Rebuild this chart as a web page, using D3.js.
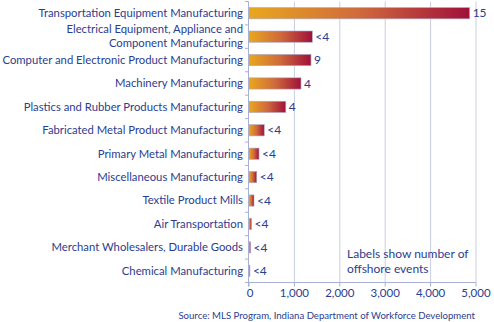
<!DOCTYPE html>
<html><head><meta charset="utf-8">
<script src="https://cdn.jsdelivr.net/npm/d3@7"></script>
<style>body{margin:0;background:#fff}svg{display:block}text{font-family:Lato,"Open Sans",sans-serif;fill:#2b3d8f}</style>
</head><body><svg id="c" width="494" height="322"></svg>
<script>
const categories = ["Transportation Equipment Manufacturing","Electrical Equipment, Appliance and|Component Manufacturing","Computer and Electronic Product Manufacturing","Machinery Manufacturing","Plastics and Rubber Products Manufacturing","Fabricated Metal Product Manufacturing","Primary Metal Manufacturing","Miscellaneous Manufacturing","Textile Product Mills","Air Transportation","Merchant Wholesalers, Durable Goods","Chemical Manufacturing"];
const values = [4860, 1395, 1365, 1145, 810, 335, 220, 170, 110, 55, 35, 20];
const eventLabels = ["15","<4","9","4","4","<4","<4","<4","<4","<4","<4","<4"];
const xTicks = [0,1000,2000,3000,4000,5000];

const svg = d3.select("#c");
const L = 249, R = 476, T = 1.5, B = 282.5;
const x = d3.scaleLinear().domain([0,5000]).range([L,R]);
const y = d3.scaleBand().domain(categories).range([T,B]).paddingInner(0.52).paddingOuter(0.26);

const defs = svg.append("defs");
const grad = defs.append("linearGradient").attr("id","g").attr("x1","0").attr("x2","1").attr("y1","0").attr("y2","0");
grad.append("stop").attr("offset","0").attr("stop-color","#e9a71e");
grad.append("stop").attr("offset","0.5").attr("stop-color","#cf6a3c");
grad.append("stop").attr("offset","1").attr("stop-color","#a0103a");

// grid
svg.append("g").selectAll("line").data(xTicks.slice(1)).join("line")
  .attr("x1",d=>x(d)).attr("x2",d=>x(d)).attr("y1",T).attr("y2",B)
  .attr("stroke","#c9cde3").attr("stroke-width",1);

// bars
svg.append("g").selectAll("rect").data(categories).join("rect")
  .attr("x",L).attr("y",d=>y(d)).attr("height",y.bandwidth())
  .attr("width",(d,i)=>x(values[i])-L)
  .attr("fill","url(#g)").attr("stroke","#a7a9c4").attr("stroke-width",0.6);

// value labels
svg.append("g").selectAll("text").data(categories).join("text")
  .attr("x",(d,i)=>x(values[i])+3).attr("y",d=>y(d)+y.bandwidth()/2).attr("dy","0.35em")
  .attr("font-size",12).text((d,i)=>eventLabels[i]);

// axes lines
svg.append("line").attr("x1",L-0.5).attr("x2",L-0.5).attr("y1",T).attr("y2",B+4).attr("stroke","#a9b0d3");
svg.append("line").attr("x1",L).attr("x2",R).attr("y1",B).attr("y2",B).attr("stroke","#a9b0d3");
// y ticks
svg.append("g").selectAll("line").data(d3.range(categories.length+1)).join("line")
  .attr("x1",L-4).attr("x2",L-0.5)
  .attr("y1",i=>i===0?T:(i===categories.length?B:(y(categories[i-1])+y.bandwidth()+y(categories[i]))/2))
  .attr("y2",i=>i===0?T:(i===categories.length?B:(y(categories[i-1])+y.bandwidth()+y(categories[i]))/2))
  .attr("stroke","#a9b0d3");
// x ticks
svg.append("g").selectAll("line").data(xTicks).join("line")
  .attr("x1",d=>x(d)).attr("x2",d=>x(d)).attr("y1",B).attr("y2",B+4).attr("stroke","#a9b0d3");
svg.append("g").selectAll("text").data(xTicks).join("text")
  .attr("x",d=>x(d)+(d===0?1:0)).attr("y",297).attr("text-anchor","middle").attr("font-size",11.5)
  .text(d=>d3.format(",")(d));

// category labels
const cl = svg.append("g").selectAll("text").data(categories).join("text")
  .attr("x",L-6).attr("y",d=>y(d)+y.bandwidth()/2).attr("text-anchor","end").attr("font-size",11.3);
cl.each(function(d){
  const parts = d.split("|"); const t = d3.select(this);
  if(parts.length===1){ t.attr("dy","0.35em").text(d); }
  else {
    t.append("tspan").attr("x",L-6).attr("dy","-0.3em").text(parts[0]);
    t.append("tspan").attr("x",L-6).attr("dy","1.2em").text(parts[1]);
  }
});

// note
svg.append("text").attr("x",347).attr("y",258).attr("font-size",12).text("Labels show number of");
svg.append("text").attr("x",347).attr("y",273).attr("font-size",12).text("offshore events");

svg.append("text").attr("x",475).attr("y",319).attr("text-anchor","end").attr("font-size",9.6)
  .text("Source: MLS Program, Indiana Department of Workforce Development");
</script></body></html>
